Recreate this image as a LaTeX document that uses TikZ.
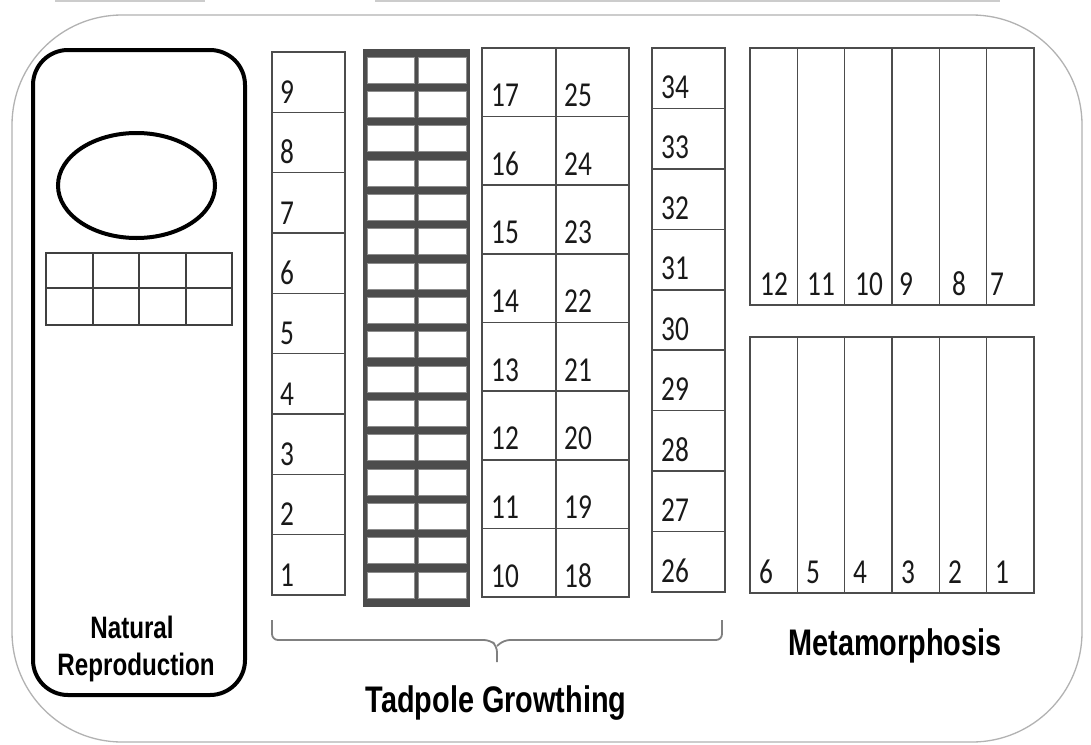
\documentclass[tikz,border=0pt]{standalone}
\usepackage{fontspec}
\usepackage{graphicx}
\setmainfont{Liberation Sans}
\newfontfamily\numfont{Carlito}
\newcommand\sx[1]{\scalebox{0.78}[1]{#1}}

\tikzset{
  outerframe/.style={draw=black!30, line width=1.3pt, rounded corners=110pt},
  cell/.style={draw=black!70, line width=1.6pt},
  num/.style={anchor=base west, inner sep=0pt, text=black!90, font=\numfont\fontsize{35}{35}\selectfont},
  title/.style={anchor=base, inner sep=0pt, font=\bfseries\fontsize{37}{37}\selectfont},
  smalltitle/.style={anchor=base, inner sep=0pt, font=\bfseries\fontsize{31}{31}\selectfont},
}

\begin{document}
\begin{tikzpicture}[x=1pt,y=-1pt]
\useasboundingbox (0,0) rectangle (1091,744);
\fill[white] (0,0) rectangle (1091,744);

% edges of the boxes above, cut by the top border
\draw[black!20, line width=1.5pt] (55,1) -- (205,1);
\draw[black!20, line width=1.5pt] (375,1) -- (1000,1);

% outer rounded frame
\draw[outerframe] (12,15) rectangle (1082,742);

% natural reproduction tank
\draw[line width=4pt, rounded corners=35pt] (33,50) rectangle (245,695);
\draw[line width=4pt] (136.5,185.5) ellipse [x radius=78.5pt, y radius=52.5pt];
\draw[black!75, line width=2pt] (46,253) rectangle (232,325);
\draw[black!75, line width=2pt] (46,288) -- (232,288);
\foreach \x in {92.5,139,185.5} \draw[black!75, line width=2pt] (\x,253) -- (\x,325);
\node[smalltitle] (natural) at (132,638) {\sx{Natural}};
\node[smalltitle] (repro) at (136,675) {\sx{Reproduction}};

% column 1--9
\foreach \k in {1,...,9} {
  \pgfmathsetmacro\yb{595-(\k-1)*60.33}
  \pgfmathsetmacro\yt{595-\k*60.33}
  \draw[cell] (272,\yb) rectangle (345,\yt);
  \node[num] (a\k) at (280,\yb-9) {\sx{\k}};
}

% grey rack of 16 x 2 trays
\fill[black!70] (363,49) rectangle (470,607);
\foreach \i in {0,...,15} {
  \pgfmathsetmacro\yt{57+\i*34.33}
  \pgfmathsetmacro\yb{83+\i*34.33}
  \filldraw[fill=white, draw=black!45, line width=0.8pt] (367,\yt) rectangle (414,\yb);
  \filldraw[fill=white, draw=black!45, line width=0.8pt] (418,\yt) rectangle (466,\yb);
}

% columns 10--17 and 18--25
\foreach \k in {0,...,7} {
  \pgfmathsetmacro\yb{597-\k*68.625}
  \pgfmathsetmacro\yt{597-(\k+1)*68.625}
  \pgfmathtruncatemacro\l{10+\k}
  \pgfmathtruncatemacro\r{18+\k}
  \draw[cell] (482,\yb) rectangle (556,\yt);
  \draw[cell] (556,\yb) rectangle (629,\yt);
  \node[num] (b\l) at (491,\yb-10) {\sx{\l}};
  \node[num] (b\r) at (564,\yb-10) {\sx{\r}};
}

% column 26--34
\foreach \k in {0,...,8} {
  \pgfmathsetmacro\yb{592-\k*60.44}
  \pgfmathsetmacro\yt{592-(\k+1)*60.44}
  \pgfmathtruncatemacro\l{26+\k}
  \draw[cell] (652,\yb) rectangle (725,\yt);
  \node[num] (c\l) at (661,\yb-10) {\sx{\l}};
}

% metamorphosis tanks
\foreach \i in {0,...,5} {
  \pgfmathsetmacro\xa{750+\i*47.33}
  \pgfmathsetmacro\xb{750+(\i+1)*47.33}
  \draw[cell] (\xa,48) rectangle (\xb,305);
  \draw[cell] (\xa,337) rectangle (\xb,593);
}
\foreach \n/\x in {12/760,11/807,10/855,9/899,8/952,7/990}
  \node[num] (m\n) at (\x,295) {\sx{\n}};
\foreach \n/\x in {6/759,5/806,4/853,3/901,2/948,1/995}
  \node[num] (m\n) at (\x,583) {\sx{\n}};
\node[title] (meta) at (895,655) {\sx{Metamorphosis}};

% brace under the growth tanks
\draw[black!50, line width=1.8pt, rounded corners=6pt] (272,620) |- (490,640) -- (497,646) -- (497,662);
\draw[black!50, line width=1.8pt, rounded corners=6pt] (722,620) |- (504,640) -- (497,646);
\node[title] (tadpole) at (496,712) {\sx{Tadpole Growthing}};
\end{tikzpicture}
\end{document}
